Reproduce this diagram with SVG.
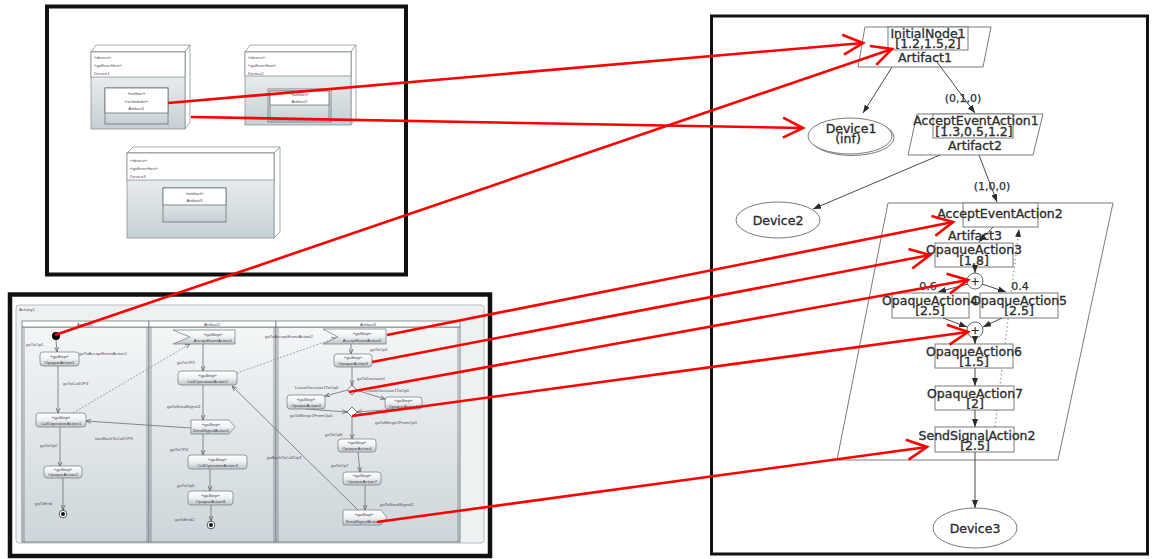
<svg xmlns="http://www.w3.org/2000/svg" width="1161" height="559" viewBox="0 0 1161 559">
  <defs>
    <linearGradient id="bodyFill" x1="0" y1="0" x2="0" y2="1">
      <stop offset="0" stop-color="#f7f9f9"/>
      <stop offset="1" stop-color="#c6d0d4"/>
    </linearGradient>
    <linearGradient id="laneFill" x1="0" y1="0" x2="0" y2="1">
      <stop offset="0" stop-color="#f4f6f7"/>
      <stop offset="1" stop-color="#cdd6da"/>
    </linearGradient>
    <linearGradient id="stepFill" x1="0" y1="0" x2="0" y2="1">
      <stop offset="0" stop-color="#ffffff"/>
      <stop offset="0.5" stop-color="#eef1f2"/>
      <stop offset="1" stop-color="#b9c4c8"/>
    </linearGradient>
    <marker id="redHead" markerUnits="userSpaceOnUse" markerWidth="26" markerHeight="26" viewBox="0 0 26 26" refX="22" refY="13" orient="auto" overflow="visible">
      <path d="M2,3 L22,13 L2,23" fill="none" stroke="#ff0000" stroke-width="2.6"/>
    </marker>
    <marker id="arrow" markerUnits="userSpaceOnUse" markerWidth="8" markerHeight="8" viewBox="0 0 8 8" refX="8" refY="4" orient="auto">
      <path d="M0,1 L8,4 L0,7 z" fill="#2a2a2a"/>
    </marker>
    <marker id="tinyArrow" markerUnits="userSpaceOnUse" markerWidth="5" markerHeight="5" viewBox="0 0 5 5" refX="5" refY="2.5" orient="auto">
      <path d="M0,0.5 L5,2.5 L0,4.5" fill="none" stroke="#555" stroke-width="0.7"/>
    </marker>
    <style>
      .frame { fill: #ffffff; stroke: #111; }
      .tiny { font-family: "Liberation Sans", Arial, sans-serif; font-size: 4.3px; fill: #5a4860; }
      .tinyC { font-family: "Liberation Sans", Arial, sans-serif; font-size: 4.3px; fill: #4a3a50; text-anchor: middle; }
      .dev { fill: url(#bodyFill); stroke: #8a9498; stroke-width: 0.8; }
      .devHead { fill: #ffffff; stroke: #8a9498; stroke-width: 0.8; }
      .devSide { fill: #ffffff; stroke: #8a9498; stroke-width: 0.8; }
      .art { fill: url(#bodyFill); stroke: #6c7478; stroke-width: 0.8; }
      .step { fill: url(#stepFill); stroke: #7e8689; stroke-width: 0.8; }
      .lane { fill: url(#laneFill); stroke: #6f7a7e; stroke-width: 0.9; }
      .laneHead { fill: #ffffff; stroke: #6f7a7e; stroke-width: 0.8; }
      .flow { fill: none; stroke: #6a6f72; stroke-width: 0.8; marker-end: url(#tinyArrow); }
      .flowDash { fill: none; stroke: #7a7f82; stroke-width: 0.7; stroke-dasharray: 2 1.5; marker-end: url(#tinyArrow); }
      .shape { fill: #ffffff; stroke: #7a7a7a; stroke-width: 1; }
      .label { font-family: "DejaVu Sans", Verdana, sans-serif; font-size: 12.5px; fill: #2e2e2e; stroke: #2e2e2e; stroke-width: 0.35; text-anchor: middle; }
      .small { font-family: "DejaVu Sans", Verdana, sans-serif; font-size: 11px; fill: #2e2e2e; stroke: #2e2e2e; stroke-width: 0.25; text-anchor: middle; }
      .edge { fill: none; stroke: #4a4a4a; stroke-width: 1; marker-end: url(#arrow); }
      .dotted { fill: none; stroke: #9a9a9a; stroke-width: 1.3; stroke-dasharray: 1.5 2.5; marker-end: url(#arrow); }
      .mapping { fill: none; stroke: #ff0000; stroke-width: 2.6; marker-end: url(#redHead); }
    </style>
  </defs>

  <rect width="1161" height="559" fill="#ffffff"/>

  <!-- ===== Deployment diagram (top left) ===== -->
  <g id="deployment-view">
    <rect class="frame" x="47" y="6.5" width="359" height="268" stroke-width="4"/>

    <g id="device1">
      <polygon class="devSide" points="91,52 96,45 190,45 185,52"/>
      <polygon class="devSide" points="185,52 190,45 190,122 185,129"/>
      <rect class="dev" x="91" y="52" width="94" height="77"/>
      <rect class="devHead" x="91" y="52" width="94" height="25"/>
      <text class="tiny" x="94" y="58.5">«device»</text>
      <text class="tiny" x="94" y="66.5">«gaExecHost»</text>
      <text class="tiny" x="94" y="74.5">Device1</text>
      <g id="artifact1">
        <rect class="art" x="105" y="88" width="63" height="36"/>
        <rect fill="#ffffff" stroke="#6c7478" stroke-width="0.8" x="105" y="88" width="63" height="25"/>
        <text class="tinyC" x="136.5" y="95">«artifact»</text>
        <text class="tinyC" x="136.5" y="102.5">«scheduler»</text>
        <text class="tinyC" x="136.5" y="110">Artifact1</text>
      </g>
    </g>

    <g id="device2">
      <polygon class="devSide" points="245,52 250,45 356,45 351,52"/>
      <polygon class="devSide" points="351,52 356,45 356,118 351,125"/>
      <rect class="dev" x="245" y="52" width="106" height="73"/>
      <rect class="devHead" x="245" y="52" width="106" height="24"/>
      <text class="tiny" x="248" y="58.5">«device»</text>
      <text class="tiny" x="248" y="66.5">«gaExecHost»</text>
      <text class="tiny" x="248" y="74.5">Device2</text>
      <g id="artifact2">
        <rect class="art" x="268" y="89" width="63" height="33"/>
        <rect class="art" x="270" y="91" width="59" height="29"/>
        <rect fill="#ffffff" stroke="#6c7478" stroke-width="0.8" x="270" y="91" width="59" height="14"/>
        <text class="tinyC" x="299.5" y="96">«artifact»</text>
        <text class="tinyC" x="299.5" y="103">Artifact2</text>
      </g>
    </g>

    <g id="device3">
      <polygon class="devSide" points="127,153 133,147 280,147 274,153"/>
      <polygon class="devSide" points="274,153 280,147 280,232 274,238"/>
      <rect class="dev" x="127" y="153" width="147" height="85"/>
      <rect class="devHead" x="127" y="153" width="147" height="27"/>
      <text class="tiny" x="130" y="161.5">«device»</text>
      <text class="tiny" x="130" y="169.5">«gaExecHost»</text>
      <text class="tiny" x="130" y="177.5">Device3</text>
      <g id="artifact3">
        <rect class="art" x="163" y="188" width="63" height="34"/>
        <rect fill="#ffffff" stroke="#6c7478" stroke-width="0.8" x="163" y="188" width="63" height="17"/>
        <text class="tinyC" x="194.5" y="194.5">«artifact»</text>
        <text class="tinyC" x="194.5" y="201.5">Artifact3</text>
      </g>
    </g>
  </g>

  <!-- ===== Activity diagram with partitions (bottom left) ===== -->
  <g id="activity-view">
    <rect class="frame" x="10" y="294.5" width="480" height="261.5" stroke-width="4.5"/>
    <rect x="16" y="305" width="468" height="238" rx="3" fill="#eef1f2" stroke="#b0b6b8" stroke-width="0.9"/>
    <text class="tiny" x="19" y="311">Activity1</text>

    <g id="lane-artifact1">
      <rect class="lane" x="22" y="327" width="127" height="215"/>
      <rect class="laneHead" x="22" y="321" width="127" height="6"/>
      <line x1="24" y1="327" x2="24" y2="542" stroke="#6f7a7e" stroke-width="0.7"/>
      <line x1="147" y1="327" x2="147" y2="542" stroke="#6f7a7e" stroke-width="0.7"/>
      <text class="tinyC" x="85" y="325.5">Artifact1</text>
    </g>
    <g id="lane-artifact2">
      <rect class="lane" x="149" y="327" width="127" height="215"/>
      <rect class="laneHead" x="149" y="321" width="127" height="6"/>
      <line x1="151" y1="327" x2="151" y2="542" stroke="#6f7a7e" stroke-width="0.7"/>
      <line x1="274" y1="327" x2="274" y2="542" stroke="#6f7a7e" stroke-width="0.7"/>
      <text class="tinyC" x="212" y="325.5">Artifact2</text>
    </g>
    <g id="lane-artifact3">
      <rect class="lane" x="276" y="327" width="184" height="215"/>
      <rect class="laneHead" x="276" y="321" width="184" height="6"/>
      <line x1="278" y1="327" x2="278" y2="542" stroke="#6f7a7e" stroke-width="0.7"/>
      <line x1="458" y1="327" x2="458" y2="542" stroke="#6f7a7e" stroke-width="0.7"/>
      <text class="tinyC" x="368" y="325.5">Artifact3</text>
    </g>

    <!-- control flows inside the activity -->
    <g id="activity-flows">
      <path class="flow" d="M56,340 L57,352"/>
      <path class="flow" d="M58,366 L58,413"/>
      <path class="flowDash" d="M73,413 L190,344"/>
      <path class="flow" d="M191,428 L86,421"/>
      <path class="flow" d="M60,427 L60,467"/>
      <path class="flow" d="M63,477 L63,510"/>
      <path class="flow" d="M203,344 L203,371"/>
      <path class="flowDash" d="M237,373 L336,338"/>
      <path class="flow" d="M203,385 L203,420"/>
      <path class="flow" d="M203,434 L203,455"/>
      <path class="flow" d="M210,469 L210,491"/>
      <path class="flow" d="M211,505 L211,521"/>
      <path class="flow" d="M358,510 L232,386"/>
      <path class="flow" d="M351,344 L351,354"/>
      <path class="flow" d="M352,367 L352,385"/>
      <path class="flow" d="M348,390 L325,396"/>
      <path class="flow" d="M356,390 L385,399"/>
      <path class="flow" d="M306,409 L347,412"/>
      <path class="flow" d="M398,409 L357,412"/>
      <path class="flow" d="M352,417 L352,439"/>
      <path class="flow" d="M358,452 L360,472"/>
      <path class="flow" d="M365,485 L365,510"/>

      <text class="tiny" x="26" y="346">goToOp1</text>
      <text class="tiny" x="79" y="355">goToAcceptEventAction2</text>
      <text class="tiny" x="63" y="384.5">goToCallOP3</text>
      <text class="tiny" x="95" y="439.5">waitBackToCallOP3</text>
      <text class="tiny" x="40" y="446.5">goToOp2</text>
      <text class="tiny" x="35" y="504.5">goToEnd</text>
      <text class="tiny" x="177" y="364">goToOP2</text>
      <text class="tiny" x="265" y="338">goToAcceptEventAction2</text>
      <text class="tiny" x="167" y="407.5">goToSendSignal1</text>
      <text class="tiny" x="170" y="450.5">goToOP4</text>
      <text class="tiny" x="177" y="486.5">goToOp5</text>
      <text class="tiny" x="175" y="520.5">goToEnd2</text>
      <text class="tiny" x="267" y="458.5">goBackToCallOp3</text>
      <text class="tiny" x="370" y="350.5">goToOp3</text>
      <text class="tiny" x="357" y="379.5">goToDecision1</text>
      <text class="tiny" x="295" y="388.5">LeaveDecision1ToOp4</text>
      <text class="tiny" x="366" y="391.5">LeaveDecision1ToOp5</text>
      <text class="tiny" x="290" y="416.5">goToMerge1FromOp4</text>
      <text class="tiny" x="375" y="423.5">goToMerge1FromOp5</text>
      <text class="tiny" x="325" y="435.5">goToOp6</text>
      <text class="tiny" x="331" y="466.5">goToOp7</text>
      <text class="tiny" x="380" y="505.5">goToSendSignal2</text>
    </g>

    <g id="initial-node"><circle cx="56" cy="336" r="4" fill="#000"/></g>
    <g id="step-op1">
      <rect class="step" x="40" y="352" width="39" height="14" rx="3"/>
      <text class="tinyC" x="59.5" y="357.5">«gaStep»</text>
      <text class="tinyC" x="59.5" y="364">OpaqueAction1</text>
    </g>
    <g id="step-callop1">
      <rect class="step" x="36" y="413" width="50" height="14" rx="3"/>
      <text class="tinyC" x="61" y="418.5">«gaStep»</text>
      <text class="tinyC" x="61" y="425">CallOperationAction1</text>
    </g>
    <g id="step-op2">
      <rect class="step" x="44" y="466" width="38" height="12" rx="3"/>
      <text class="tinyC" x="63" y="470.8">«gaStep»</text>
      <text class="tinyC" x="63" y="476.3">OpaqueAction2</text>
    </g>
    <g id="final-node1">
      <circle cx="63" cy="514" r="3.8" fill="#fff" stroke="#333" stroke-width="0.8"/>
      <circle cx="63" cy="514" r="2" fill="#111"/>
    </g>

    <g id="step-accept1">
      <polygon class="step" points="173,330 235,330 235,344 173,344 190,337"/>
      <text class="tinyC" x="213" y="335.5">«gaStep»</text>
      <text class="tinyC" x="213" y="342">AcceptEventAction1</text>
    </g>
    <g id="step-callop2">
      <rect class="step" x="178" y="371" width="59" height="14" rx="3"/>
      <text class="tinyC" x="207.5" y="376.5">«gaStep»</text>
      <text class="tinyC" x="207.5" y="383">CallOperationAction2</text>
    </g>
    <g id="step-signal1">
      <polygon class="step" points="191,420 229,420 235,427 229,434 191,434"/>
      <text class="tinyC" x="211" y="425.5">«gaStep»</text>
      <text class="tinyC" x="211" y="432">SendSignalAction1</text>
    </g>
    <g id="step-callop3">
      <rect class="step" x="188" y="455" width="59" height="14" rx="3"/>
      <text class="tinyC" x="217.5" y="460.5">«gaStep»</text>
      <text class="tinyC" x="217.5" y="467">CallOperationAction3</text>
    </g>
    <g id="step-op8">
      <rect class="step" x="188" y="491" width="45" height="14" rx="3"/>
      <text class="tinyC" x="210.5" y="496.5">«gaStep»</text>
      <text class="tinyC" x="210.5" y="503">OpaqueAction8</text>
    </g>
    <g id="final-node2">
      <circle cx="211" cy="525" r="3.8" fill="#fff" stroke="#333" stroke-width="0.8"/>
      <circle cx="211" cy="525" r="2" fill="#111"/>
    </g>

    <g id="step-accept2">
      <polygon class="step" points="323,329 386,329 386,344 323,344 338,337"/>
      <text class="tinyC" x="362" y="334.5">«gaStep»</text>
      <text class="tinyC" x="362" y="341.5">AcceptEventAction2</text>
    </g>
    <g id="step-op3">
      <rect class="step" x="334" y="354" width="38" height="13" rx="3"/>
      <text class="tinyC" x="353" y="359">«gaStep»</text>
      <text class="tinyC" x="353" y="365.3">OpaqueAction3</text>
    </g>
    <g id="decision1"><polygon points="352,385 356.5,390 352,395 347.5,390" fill="#fff" stroke="#555" stroke-width="0.8"/></g>
    <g id="step-op4">
      <rect class="step" x="287" y="395" width="38" height="14" rx="3"/>
      <text class="tinyC" x="306" y="400.5">«gaStep»</text>
      <text class="tinyC" x="306" y="407">OpaqueAction4</text>
    </g>
    <g id="step-op5">
      <rect class="step" x="385" y="397" width="37" height="12" rx="3"/>
      <text class="tinyC" x="403.5" y="402">«gaStep»</text>
      <text class="tinyC" x="403.5" y="407.5">OpaqueAction5</text>
    </g>
    <g id="merge1"><polygon points="352,407 357,412 352,417 347,412" fill="#fff" stroke="#555" stroke-width="0.8"/></g>
    <g id="step-op6">
      <rect class="step" x="338" y="439" width="38" height="13" rx="3"/>
      <text class="tinyC" x="357" y="444">«gaStep»</text>
      <text class="tinyC" x="357" y="450.3">OpaqueAction6</text>
    </g>
    <g id="step-op7">
      <rect class="step" x="343" y="472" width="38" height="13" rx="3"/>
      <text class="tinyC" x="362" y="477">«gaStep»</text>
      <text class="tinyC" x="362" y="483.3">OpaqueAction7</text>
    </g>
    <g id="step-signal2">
      <polygon class="step" points="343,510 381,510 387,517.5 381,525 343,525"/>
      <text class="tinyC" x="364" y="515.5">«gaStep»</text>
      <text class="tinyC" x="364" y="522.5">SendSignalAction2</text>
    </g>
  </g>

  <!-- ===== Analysis model (right) ===== -->
  <g id="analysis-model">
    <rect class="frame" x="711.5" y="16" width="436" height="538" stroke-width="3"/>

    <g id="artifact3-container">
      <polygon points="888,203 1113,203 1058,460 837,460" fill="#ffffff" stroke="#7a7a7a" stroke-width="1"/>
    </g>
    <!-- dotted return path, drawn behind the action boxes -->
    <path class="dotted" d="M995,427 L1019,229"/>

    <g id="initial-node1">
      <polygon class="shape" points="865,27 991,27 983,67 858,67"/>
      <rect class="shape" x="888" y="27" width="80" height="23"/>
      <text class="label" x="928" y="37.5">InitialNode1</text>
      <text class="label" x="928" y="48">[1.2,1.5,2]</text>
      <text class="label" x="925" y="62">Artifact1</text>
    </g>
    <g id="device1-resource">
      <ellipse cx="852" cy="137.5" rx="42" ry="18" fill="#ffffff" stroke="#7a7a7a" stroke-width="1"/>
      <ellipse cx="850" cy="136" rx="42" ry="18" fill="#ffffff" stroke="#7a7a7a" stroke-width="1"/>
      <text class="label" x="851" y="133">Device1</text>
      <text class="label" x="848" y="143">(inf)</text>
    </g>
    <g id="accept-event-action1">
      <polygon class="shape" points="917,114 1043,114 1033,155 908,155"/>
      <rect class="shape" x="933" y="114" width="80" height="24"/>
      <text class="label" x="976" y="124.5">AcceptEventAction1</text>
      <text class="label" x="974" y="135.5">[1.3,0.5,1.2]</text>
      <text class="label" x="975" y="150">Artifact2</text>
    </g>
    <g id="device2-resource">
      <ellipse cx="778" cy="220" rx="42" ry="18" fill="#ffffff" stroke="#7a7a7a" stroke-width="1"/>
      <text class="label" x="778" y="225">Device2</text>
    </g>
    <g id="accept-event-action2">
      <rect class="shape" x="963" y="203" width="75" height="24"/>
      <text class="label" x="1000" y="218">AcceptEventAction2</text>
      <text class="label" x="975" y="240">Artifact3</text>
    </g>
    <g id="opaque-action3">
      <rect class="shape" x="935" y="243" width="78" height="24"/>
      <text class="label" x="974" y="253.5">OpaqueAction3</text>
      <text class="label" x="974" y="264.5">[1.8]</text>
    </g>
    <g id="fork1">
      <circle cx="975" cy="281" r="8" fill="#ffffff" stroke="#6a6a6a" stroke-width="1"/>
      <text class="small" x="975" y="285">+</text>
    </g>
    <g id="opaque-action4">
      <rect class="shape" x="892" y="293" width="77" height="25"/>
      <text class="label" x="930" y="304.5">OpaqueAction4</text>
      <text class="label" x="930" y="315">[2.5]</text>
    </g>
    <g id="opaque-action5">
      <rect class="shape" x="980" y="293" width="78" height="25"/>
      <text class="label" x="1019" y="304.5">OpaqueAction5</text>
      <text class="label" x="1019" y="315">[2.5]</text>
    </g>
    <g id="join1">
      <circle cx="975" cy="330" r="8" fill="#ffffff" stroke="#6a6a6a" stroke-width="1"/>
      <text class="small" x="975" y="334">+</text>
    </g>
    <g id="opaque-action6">
      <rect class="shape" x="935" y="344" width="78" height="24"/>
      <text class="label" x="974" y="355.5">OpaqueAction6</text>
      <text class="label" x="974" y="366">[1.5]</text>
    </g>
    <g id="opaque-action7">
      <rect class="shape" x="935" y="386" width="79" height="24"/>
      <text class="label" x="975" y="397.5">OpaqueAction7</text>
      <text class="label" x="975" y="408">[2]</text>
    </g>
    <g id="send-signal-action2">
      <rect class="shape" x="935" y="427" width="79" height="25"/>
      <text class="label" x="977" y="439.5">SendSignalAction2</text>
      <text class="label" x="975" y="450">[2.5]</text>
    </g>
    <g id="device3-resource">
      <ellipse cx="975" cy="528" rx="42" ry="20" fill="#ffffff" stroke="#7a7a7a" stroke-width="1"/>
      <text class="label" x="975" y="533">Device3</text>
    </g>
  </g>

  <!-- ===== Connectors ===== -->
  <g id="connectors">
    <path class="edge" d="M892,67 L863,113"/>
    <path class="edge" d="M937,62 L975,113"/>
    <text class="small" x="963" y="102">(0,1,0)</text>
    <path class="edge" d="M979,155 L997,202"/>
    <text class="small" x="992" y="190">(1,0,0)</text>
    <path class="edge" d="M940,155 L813,209"/>
    <path class="edge" d="M993,227 L979,242"/>
    <path class="edge" d="M975,267 L975,273"/>
    <path class="edge" d="M968,284 L938,292"/>
    <path class="edge" d="M982,284 L1006,292"/>
    <text class="small" x="928" y="290">0.6</text>
    <text class="small" x="1020" y="290">0.4</text>
    <path class="edge" d="M943,318 L967,327"/>
    <path class="edge" d="M1002,318 L983,327"/>
    <path class="edge" d="M975,338 L975,344"/>
    <path class="edge" d="M975,368 L975,386"/>
    <path class="edge" d="M975,410 L975,427"/>
    <path class="edge" d="M975,452 L975,508"/>

    <!-- model-to-analysis mappings -->
    <path class="mapping" d="M168,103 L863,43"/>
    <path class="mapping" d="M191,117 L803,128"/>
    <path class="mapping" d="M55,335 L892,49"/>
    <path class="mapping" d="M387,335 L953,222"/>
    <path class="mapping" d="M372,362 L930,255"/>
    <path class="mapping" d="M349,392 L968,280"/>
    <path class="mapping" d="M352,416 L968,332"/>
    <path class="mapping" d="M377,522 L927,447"/>
  </g>
</svg>
